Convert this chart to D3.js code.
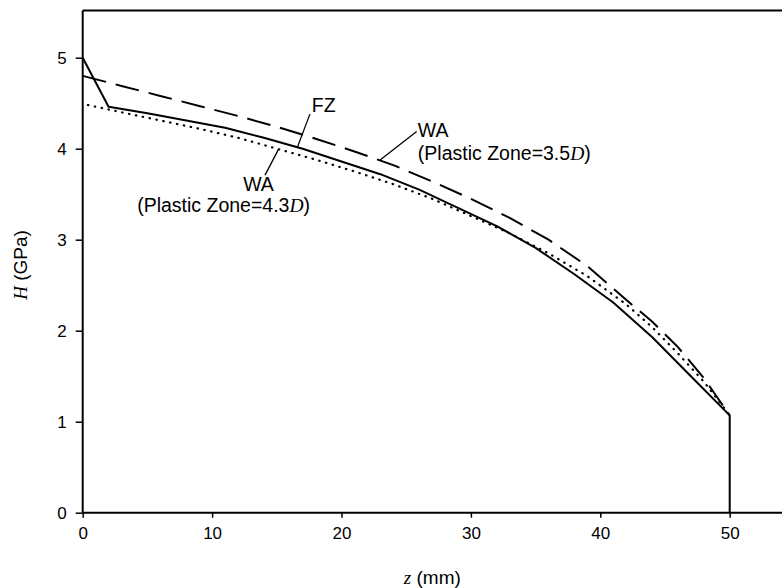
<!DOCTYPE html>
<html>
<head>
<meta charset="utf-8">
<script src="https://cdn.jsdelivr.net/npm/d3@7/dist/d3.min.js"></script>
<style>
  html, body { margin: 0; padding: 0; background: #fff; }
  svg { display: block; }
  text { font-family: "Liberation Sans", Arial, Helvetica, sans-serif; fill: #000; }
  .math { font-family: "Liberation Serif", "Times New Roman", serif; font-style: italic; }
</style>
</head>
<body>
<svg id="chart" width="782" height="588"></svg>
<script>
// Hardness profile H along z: fusion-zone result and two weld-approximation runs
const fzZ = [0, 2, 5, 8, 11, 14, 17, 20, 23, 26, 29, 32, 35, 38, 41, 44, 47, 50, 50];
const fzH = [5.00, 4.46, 4.39, 4.31, 4.23, 4.12, 4.00, 3.86, 3.72, 3.55, 3.35, 3.15, 2.91, 2.62, 2.31, 1.93, 1.50, 1.07, 0];

const wa35Z = [0, 3, 6, 9, 12, 15, 18, 21, 24, 27, 30, 33, 36, 39, 42, 44, 46, 48, 50];
const wa35H = [4.80, 4.69, 4.58, 4.47, 4.36, 4.24, 4.11, 3.97, 3.82, 3.64, 3.45, 3.24, 3.00, 2.71, 2.34, 2.10, 1.82, 1.48, 1.07];

const wa43Z = [0.4, 3, 6, 9, 12, 15, 18, 21, 24, 27, 30, 33, 36, 39, 42, 44, 46, 48, 50];
const wa43H = [4.48, 4.40, 4.31, 4.22, 4.12, 4.00, 3.88, 3.75, 3.61, 3.45, 3.26, 3.07, 2.85, 2.60, 2.29, 2.04, 1.75, 1.44, 1.07];

const xTicks = [0, 10, 20, 30, 40, 50];
const yTicks = [0, 1, 2, 3, 4, 5];

// Callout labels (data coordinates) with leader lines
const labelText = ["FZ", "WA", "(Plastic Zone=3.5", "WA", "(Plastic Zone=4.3"];
const labelZ = [17.7, 25.9, 25.9, 12.4, 17.57];
const labelH = [4.40, 4.13, 3.88, 3.53, 3.30];
const labelAnchor = ["start", "start", "start", "start", "end"];
const labelItalicD = [false, false, true, false, true];

const leaderZ1 = [17.56, 25.81, 14.09];
const leaderH1 = [4.38, 4.19, 3.71];
const leaderZ2 = [16.60, 22.98, 15.12];
const leaderH2 = [4.02, 3.876, 3.99];

const svg = d3.select("#chart");
const W = 782;

const x = d3.scaleLinear().domain([0, 50]).range([82.7, 729.7]);
const y = d3.scaleLinear().domain([0, 5]).range([512.7, 57.7]);
const yTop = y(5.52);
const xRight = W;

// frame: top edge and the two axes
svg.append("line")
  .attr("x1", x(0)).attr("x2", xRight).attr("y1", yTop).attr("y2", yTop)
  .attr("stroke", "#000").attr("stroke-width", 2);

const xAxis = d3.axisBottom(x).tickValues(xTicks).tickSize(5).tickPadding(9).tickFormat(d3.format("d"));
const gx = svg.append("g").attr("transform", `translate(0,${y(0)})`).call(xAxis);
gx.select(".domain").remove();
gx.append("line").attr("x1", x(0)).attr("x2", xRight).attr("y1", 0).attr("y2", 0)
  .attr("stroke", "#000").attr("stroke-width", 2);

const yAxis = d3.axisLeft(y).tickValues(yTicks).tickSize(7).tickPadding(9).tickFormat(d3.format("d"));
const gy = svg.append("g").attr("transform", `translate(${x(0)},0)`).call(yAxis);
gy.select(".domain").remove();
gy.append("line").attr("x1", 0).attr("x2", 0).attr("y1", yTop).attr("y2", y(0))
  .attr("stroke", "#000").attr("stroke-width", 2);

[gx, gy].forEach(g => {
  g.selectAll(".tick line").attr("stroke", "#000").attr("stroke-width", 1.5);
  g.selectAll(".tick text")
    .style("font-family", '"Liberation Sans", Arial, sans-serif')
    .style("font-size", "17px").attr("fill", "#000");
});

// curves
const line = d3.line().x(d => x(d[0])).y(d => y(d[1]));

svg.append("path")
  .datum(wa43Z.map((z, i) => [z, wa43H[i]]))
  .attr("d", line).attr("fill", "none").attr("stroke", "#000")
  .attr("stroke-width", 2.2).attr("stroke-linecap", "round")
  .attr("stroke-dasharray", "0.5,6.5");

svg.append("path")
  .datum(wa35Z.map((z, i) => [z, wa35H[i]]))
  .attr("d", line).attr("fill", "none").attr("stroke", "#000")
  .attr("stroke-width", 2).attr("stroke-dasharray", "24,10");

svg.append("path")
  .datum(fzZ.map((z, i) => [z, fzH[i]]))
  .attr("d", line).attr("fill", "none").attr("stroke", "#000")
  .attr("stroke-width", 2).attr("stroke-linejoin", "round");

// leader lines
leaderZ1.forEach((z, i) => {
  svg.append("line")
    .attr("x1", x(z)).attr("y1", y(leaderH1[i]))
    .attr("x2", x(leaderZ2[i])).attr("y2", y(leaderH2[i]))
    .attr("stroke", "#000").attr("stroke-width", 1.3);
});

// callout text
labelText.forEach((t, i) => {
  const tx = svg.append("text")
    .attr("x", x(labelZ[i])).attr("y", y(labelH[i]))
    .attr("text-anchor", labelAnchor[i])
    .style("font-size", "19.5px");
  tx.append("tspan").text(t);
  if (labelItalicD[i]) {
    tx.append("tspan").attr("class", "math").text("D");
    tx.append("tspan").text(")");
  }
});

// axis titles
const yt = svg.append("text")
  .attr("transform", `translate(27,265) rotate(-90)`)
  .attr("text-anchor", "middle").style("font-size", "19px");
yt.append("tspan").attr("class", "math").text("H");
yt.append("tspan").text(" (GPa)");

const xt = svg.append("text")
  .attr("x", (x(0) + xRight) / 2).attr("y", 584)
  .attr("text-anchor", "middle").style("font-size", "19px");
xt.append("tspan").attr("class", "math").text("z");
xt.append("tspan").text(" (mm)");
</script>
</body>
</html>
